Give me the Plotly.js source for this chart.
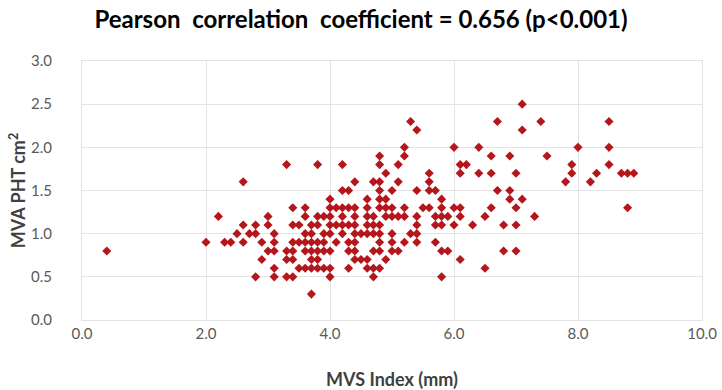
<!DOCTYPE html>
<html>
<head>
<meta charset="utf-8">
<script src="https://cdn.plot.ly/plotly-3.0.1.min.js"></script>
<style>html,body{margin:0;padding:0;background:#fff;}#chart{width:722px;height:390px;}</style>
</head>
<body>
<div id="chart"></div>
<script>
const mvsIndex = [
  0.4,
  2.0, 2.2, 2.3, 2.4, 2.5,
  2.6, 2.6, 2.6, 2.7,
  2.8, 2.8, 2.8, 2.9, 2.9,
  3.0, 3.0, 3.0,
  3.1, 3.1, 3.1, 3.1, 3.1,
  3.3, 3.3, 3.3, 3.3,
  3.4, 3.4, 3.4, 3.4, 3.4, 3.4,
  3.5, 3.5, 3.5,
  3.6, 3.6, 3.6, 3.6, 3.6, 3.6,
  3.7, 3.7, 3.7, 3.7, 3.7, 3.7, 3.7,
  3.8, 3.8, 3.8, 3.8, 3.8, 3.8, 3.8,
  3.9, 3.9, 3.9, 3.9, 3.9,
  4.0, 4.0, 4.0, 4.0, 4.0, 4.0, 4.0, 4.0,
  4.1, 4.1, 4.1,
  4.2, 4.2, 4.2, 4.2, 4.2, 4.2,
  4.3, 4.3, 4.3, 4.3, 4.3, 4.3,
  4.4, 4.4, 4.4, 4.4, 4.4, 4.4, 4.4, 4.4,
  4.5, 4.5,
  4.6, 4.6, 4.6, 4.6, 4.6, 4.6, 4.6,
  4.7, 4.7, 4.7, 4.7, 4.7, 4.7, 4.7,
  4.8, 4.8, 4.8, 4.8, 4.8, 4.8, 4.8, 4.8, 4.8, 4.8, 4.8,
  4.9, 4.9, 4.9, 4.9, 4.9,
  5.0, 5.0, 5.0, 5.0, 5.0, 5.0,
  5.1, 5.1, 5.1, 5.1,
  5.2, 5.2, 5.2, 5.2, 5.2,
  5.3, 5.3,
  5.4, 5.4, 5.4, 5.4, 5.4, 5.4,
  5.5,
  5.6, 5.6, 5.6, 5.6,
  5.7, 5.7, 5.7, 5.7,
  5.8, 5.8, 5.8, 5.8, 5.8, 5.8,
  5.9, 5.9,
  6.0, 6.0, 6.0,
  6.1, 6.1, 6.1, 6.1, 6.1,
  6.2, 6.3,
  6.4, 6.4,
  6.5, 6.5,
  6.6, 6.6, 6.6,
  6.7, 6.7,
  6.8, 6.8,
  6.9, 6.9, 6.9,
  7.0, 7.0, 7.0, 7.0,
  7.1, 7.1, 7.1,
  7.3, 7.4, 7.5,
  7.8, 7.9, 7.9, 8.0,
  8.2, 8.3,
  8.5, 8.5, 8.5,
  8.7, 8.8, 8.9, 8.8
];
const mvaPht = [
  0.8,
  0.9, 1.2, 0.9, 0.9, 1.0,
  1.6, 1.1, 0.9, 1.0,
  1.1, 1.0, 0.5, 0.9, 0.7,
  1.2, 1.1, 0.8,
  1.0, 0.9, 0.8, 0.6, 0.5,
  1.8, 0.8, 0.7, 0.5,
  1.3, 1.1, 0.9, 0.8, 0.7, 0.5,
  1.1, 0.9, 0.6,
  1.3, 1.2, 1.0, 0.9, 0.8, 0.6,
  1.1, 1.0, 0.9, 0.8, 0.7, 0.6, 0.3,
  1.8, 1.2, 1.1, 0.9, 0.8, 0.7, 0.6,
  1.2, 1.0, 0.9, 0.8, 0.6,
  1.4, 1.3, 1.2, 1.1, 1.0, 0.8, 0.6, 0.5,
  1.3, 1.1, 0.9,
  1.8, 1.5, 1.3, 1.2, 1.1, 1.0,
  1.5, 1.3, 1.1, 0.9, 0.8, 0.6,
  1.6, 1.3, 1.2, 1.1, 1.0, 0.9, 0.8, 0.7,
  1.0, 0.7,
  1.4, 1.3, 1.2, 1.1, 1.0, 0.7, 0.6,
  1.6, 1.2, 1.1, 1.0, 0.8, 0.6, 0.5,
  1.9, 1.8, 1.6, 1.5, 1.4, 1.3, 1.1, 1.0, 0.9, 0.8, 0.6,
  1.7, 1.4, 1.3, 1.2, 0.7,
  1.5, 1.3, 1.2, 1.0, 0.9, 0.8,
  1.8, 1.6, 1.2, 0.8,
  2.0, 1.9, 1.3, 1.2, 0.9,
  2.3, 1.0,
  2.2, 1.5, 1.2, 1.1, 1.0, 0.9,
  1.3,
  1.7, 1.6, 1.5, 1.3,
  1.5, 1.2, 1.1, 0.9,
  1.4, 1.3, 1.2, 1.1, 0.8, 0.5,
  1.2, 0.8,
  2.0, 1.3, 1.1,
  1.8, 1.7, 1.3, 1.2, 0.7,
  1.8, 1.1,
  2.0, 1.7,
  1.2, 0.6,
  1.9, 1.7, 1.3,
  2.3, 1.5,
  1.1, 0.8,
  1.9, 1.5, 1.4,
  1.7, 1.3, 1.1, 0.8,
  2.5, 2.2, 1.4,
  1.2, 2.3, 1.9,
  1.6, 1.8, 1.7, 2.0,
  1.6, 1.7,
  2.3, 2.0, 1.8,
  1.7, 1.7, 1.7, 1.3
];
const xTickVals = [0, 2, 4, 6, 8, 10];
const xTickText = ["0.0", "2.0", "4.0", "6.0", "8.0", "10.0"];
const yTickVals = [0, 0.5, 1, 1.5, 2, 2.5, 3];
const yTickText = ["0.0", "0.5", "1.0", "1.5", "2.0", "2.5", "3.0"];

const font = "Lato, 'Open Sans', sans-serif";
const trace = {
  x: mvsIndex, y: mvaPht, type: 'scatter', mode: 'markers',
  marker: {symbol: 'diamond', size: 7, color: '#B5161B'},
  hoverinfo: 'x+y'
};
const layout = {
  width: 722, height: 390,
  margin: {l: 82, r: 20, t: 61, b: 70},
  paper_bgcolor: '#fff', plot_bgcolor: '#fff',
  showlegend: false,
  title: {text: '<b>Pearson  correlation  coefficient = 0.656 (p&lt;0.001)</b>',
          font: {family: font, size: 24, color: '#000'}, x: 0.5, xanchor: 'center', y: 0.95, yanchor: 'middle'},
  xaxis: {
    range: [0, 10], tickvals: xTickVals, ticktext: xTickText,
    showgrid: true, gridcolor: '#E3E3E3', gridwidth: 1,
    zeroline: false, showline: true, linecolor: '#E3E3E3', mirror: true,
    ticks: '', tickfont: {family: font, size: 15, color: '#595959'},
    automargin: false,
    title: {text: '<b>MVS Index (mm)</b>', font: {family: font, size: 18, color: '#404040'}, standoff: 34}
  },
  yaxis: {
    range: [0, 3], tickvals: yTickVals, ticktext: yTickText,
    showgrid: true, gridcolor: '#E3E3E3', gridwidth: 1,
    zeroline: false, showline: true, linecolor: '#E3E3E3', mirror: true,
    ticks: '', ticklabelstandoff: 26, tickfont: {family: font, size: 15, color: '#595959'},
    automargin: false,
    title: {text: '<b>MVA PHT cm<sup>2</sup></b>', font: {family: font, size: 18, color: '#404040'}, standoff: 0}
  }
};
Plotly.newPlot('chart', [trace], layout, {displayModeBar: false, staticPlot: true});
</script>
</body>
</html>
